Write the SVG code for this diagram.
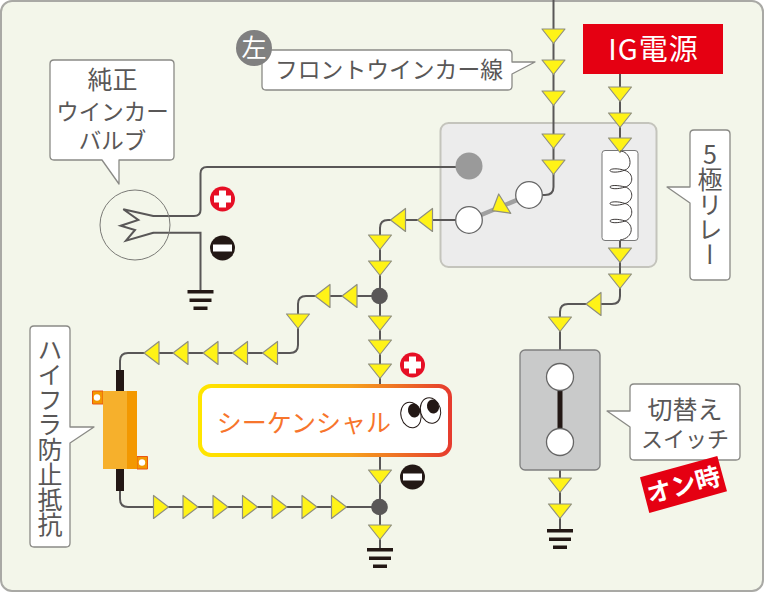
<svg xmlns="http://www.w3.org/2000/svg" width="764" height="592" viewBox="0 0 764 592">
<style>
text{font-family:"Noto Sans CJK JP","Noto Sans",sans-serif;fill:#595757;text-anchor:middle}
.w{fill:none;stroke:#595757;stroke-width:2}
.c{fill:#fff;stroke:#8a8a86;stroke-width:1.3;stroke-linejoin:round}
.v{writing-mode:vertical-rl;text-orientation:upright}
.g{fill:#231815}
.o{fill:#fff;stroke:#666;stroke-width:1.3}
.tw{fill:#fff}
</style>
<defs>
<path id="d" d="M-11.500 0H11.500L0 14.500Z" fill="#fff317" stroke="#8f8f80" stroke-width="1.2" stroke-linejoin="round"/>
<path id="l" d="M15 -11.500V11.500L0 0Z" fill="#fff317" stroke="#8f8f80" stroke-width="1.2" stroke-linejoin="round"/>
<path id="r" d="M0 -11.500V11.500L15 0Z" fill="#fff317" stroke="#8f8f80" stroke-width="1.2" stroke-linejoin="round"/>
<g id="gnd"><rect x="-13" y="-1.500" width="26" height="3.500" class="g"/><rect x="-11" y="7" width="22" height="3.500" class="g"/><rect x="-7" y="15" width="14" height="3.500" class="g"/></g>
<g id="plus"><circle r="12.500" fill="#e60f25"/><path d="M-3.500 -8.500H3.500V-3.500H8.500V3.500H3.500V8.500H-3.500V3.500H-8.500V-3.500H-3.500Z" fill="#fff"/></g>
<g id="minus"><circle r="12.500" fill="#231815"/><rect x="-9.500" y="-3.500" width="19" height="7" fill="#fff"/></g>
<linearGradient id="seq" x1="0" x2="1" y1="0" y2="0"><stop offset="0" stop-color="#ffe600"/><stop offset=".3" stop-color="#fcc800"/><stop offset=".6" stop-color="#f6a21c"/><stop offset="1" stop-color="#e63c2e"/></linearGradient>
</defs>

<rect id="background" x="1" y="1" width="762" height="590" rx="11" fill="#f3f6ea" stroke="#a9a9a5" stroke-width="2"/>

<g id="relay">
<rect x="440.500" y="123" width="216" height="144" rx="8" fill="#ececec" stroke="#c4c4bc" stroke-width="2"/>
</g>

<g id="connectors">
<path class="w" d="M553.500 0V187Q553.500 195 545 195H540"/>
<path class="w" d="M620 74V150M620 240V296Q620 304 612 304H568Q560 304 560 312V350M560 470V530"/>
<path class="w" d="M456 220H388Q380 220 380 228V384M380 296H306Q298 296 298 304V345Q298 353 290 353H128Q120 353 120 361V372"/>
<path class="w" d="M380 457V549M380 507H128Q120 507 120 499V490"/>
<path class="w" d="M153 216H194Q200.500 216 200.500 210V173.500Q200.500 167 207 167H458M153 232.700H200.500V291"/>
<path d="M469 220L529 195" stroke="#a0a0a0" stroke-width="4.500" fill="none"/>
</g>

<g id="arrows">
<use href="#d" x="553.500" y="29"/><use href="#d" x="553.500" y="60"/><use href="#d" x="553.500" y="91"/><use href="#d" x="553.500" y="134"/><use href="#d" x="553.500" y="160"/>
<use href="#d" x="620" y="87"/><use href="#d" x="620" y="113"/>
<use href="#d" x="620" y="248"/><use href="#d" x="620" y="274"/>
<use href="#l" x="586" y="304"/><use href="#d" x="560" y="317"/>
<use href="#d" x="560" y="478"/><use href="#d" x="560" y="504"/>
<use href="#l" x="417.500" y="220"/><use href="#l" x="390.500" y="220"/>
<use href="#d" x="380" y="235"/><use href="#d" x="380" y="261"/>
<use href="#d" x="380" y="316"/><use href="#d" x="380" y="340"/><use href="#d" x="380" y="364"/>
<use href="#d" x="380" y="470"/><use href="#d" x="380" y="525"/>
<use href="#l" x="342" y="296"/><use href="#l" x="315" y="296"/>
<use href="#d" x="298" y="314"/>
<use href="#l" x="262.500" y="353"/><use href="#l" x="232.500" y="353"/><use href="#l" x="203" y="353"/><use href="#l" x="173" y="353"/><use href="#l" x="144" y="353"/>
<use href="#r" x="153.500" y="507"/><use href="#r" x="183" y="507"/><use href="#r" x="213" y="507"/><use href="#r" x="242.500" y="507"/><use href="#r" x="272" y="507"/><use href="#r" x="302" y="507"/><use href="#r" x="331.500" y="507"/>
<path d="M498.700 194L492.300 210.700L510.700 213.300Z" fill="#fff317" stroke="#8f8f80" stroke-width="1.200" stroke-linejoin="round"/>
</g>

<g id="relay-contacts">
<circle cx="469" cy="166" r="13.500" fill="#9a9a9a"/>
<circle cx="469" cy="220" r="13.300" class="o"/>
<circle cx="529" cy="195" r="13.300" class="o"/>
</g>

<g id="coil">
<rect x="602" y="150.500" width="36" height="90" rx="3" fill="#fff" stroke="#777" stroke-width="1"/>
<use href="#d" x="620" y="138"/>
<path d="M620 151C630 151 634 167 625 170C618 173 610 172.500 610 170.500C610 168.500 618 168 625 170.500C634 173 634 185 625 187C618 189.500 610 189 610 187C610 185 618 185 625 187C634 189.500 634 201 625 203.500C618 206 610 205.500 610 203.500C610 201.500 618 201 625 203.500C634 206 634 218 625 221C618 223.500 610 223 610 221C610 219 618 218.500 625 221C634 224 634 238 620 240" fill="none" stroke="#3e3a39" stroke-width="1"/>
</g>

<g id="ig-power">
<rect x="583" y="24" width="140" height="50" fill="#e50012"/>
<text x="653.500" y="60" font-size="29" letter-spacing="1" class="tw">IG電源</text>
</g>

<g id="left-wire-label">
<path class="c" d="M266 50H508Q512 50 512 54V62L535 62L512 74V86Q512 90 508 90H266Q262 90 262 86V54Q262 50 266 50Z"/>
<text x="389" y="78" font-size="22.800">フロントウインカー線</text>
<circle cx="254" cy="48" r="18" fill="#808080"/>
<text x="254" y="57" font-size="25" class="tw">左</text>
</g>

<g id="bulb-label">
<path class="c" d="M54 60H170Q174 60 174 64V156Q174 160 170 160H119V184L102 160H54Q50 160 50 156V64Q50 60 54 60Z"/>
<text x="112.500" y="89" font-size="25">純正</text>
<text x="112.500" y="120" font-size="22.500">ウインカー</text>
<text x="112.500" y="149" font-size="22.500">バルブ</text>
</g>

<g id="bulb">
<circle cx="135" cy="225" r="35" fill="none" stroke="#7a7a76" stroke-width="1"/>
<path d="M153.300 216L123.300 209.300L138.300 220L120.700 225.700L135 230L126 240.700L153.300 232.700" fill="none" stroke="#595757" stroke-width="2"/>
</g>
<g id="bulb-ground"><use href="#gnd" x="200.500" y="291.500"/></g>
<g id="bulb-plus"><use href="#plus" x="222.500" y="199"/></g>
<g id="bulb-minus"><use href="#minus" x="222.500" y="248"/></g>

<g id="relay-label">
<path class="c" d="M694 130H726Q730 130 730 134V276Q730 280 726 280H694Q690 280 690 276V203L667 187L690 187V134Q690 130 694 130Z"/>
<text x="710" y="204" font-size="25" class="v">5極リレー</text>
</g>

<g id="resistor-label">
<path class="c" d="M34 326H66Q70 326 70 330V427L94 427L70 443V543Q70 547 66 547H34Q30 547 30 543V330Q30 326 34 326Z"/>
<text x="50" y="437" font-size="25" class="v">ハイフラ防止抵抗</text>
</g>

<g id="resistor">
<rect x="116" y="370" width="8" height="21.500" class="g"/>
<rect x="116" y="469" width="8" height="22" class="g"/>
<path d="M92.500 391H103V404H92.500Z" fill="#f39800" stroke="#ea5514" stroke-width="1"/>
<circle cx="97" cy="397.500" r="3.200" fill="#fff"/>
<path d="M137 456.500H147.500V469H137Z" fill="#f39800" stroke="#ea5514" stroke-width="1"/>
<circle cx="142" cy="462.500" r="3.200" fill="#fff"/>
<rect x="103" y="391" width="24" height="78" fill="#f6b02c"/>
<rect x="127" y="391" width="10" height="78" fill="#f39800"/>
</g>

<g id="sequential">
<rect x="200" y="386" width="250" height="69" rx="11" fill="#fff" stroke="url(#seq)" stroke-width="4"/>
<text x="304" y="432" font-size="25" style="fill:#f7752c">シーケンシャル</text>
<ellipse cx="411" cy="415" rx="10" ry="13" transform="rotate(-15 411 415)" fill="#fff" stroke="#231815" stroke-width="1"/>
<ellipse cx="430.500" cy="410.500" rx="10" ry="13" transform="rotate(-15 430.500 410.500)" fill="#fff" stroke="#231815" stroke-width="1"/>
<ellipse cx="414" cy="410.500" rx="6" ry="7" transform="rotate(-15 414 410.500)" fill="#231815"/>
<ellipse cx="433" cy="406.500" rx="6" ry="7" transform="rotate(-15 433 406.500)" fill="#231815"/>
</g>
<g id="seq-plus"><use href="#plus" x="412.500" y="365"/></g>
<g id="seq-minus"><use href="#minus" x="412.500" y="477"/></g>
<g id="junction-top"><circle cx="379.500" cy="296" r="8.300" fill="#595757"/></g>
<g id="junction-bottom"><circle cx="379.500" cy="507" r="8.300" fill="#595757"/></g>
<g id="seq-ground"><use href="#gnd" x="380" y="549.500"/></g>

<g id="switch">
<rect x="520" y="350" width="80" height="120" rx="5" fill="#c9caca" stroke="#7f7f7f" stroke-width="1.300"/>
<rect x="557.500" y="385" width="5" height="50" class="g"/>
<circle cx="560" cy="377" r="13.500" class="o"/>
<circle cx="560" cy="442" r="13.500" class="o"/>
</g>
<g id="switch-ground"><use href="#gnd" x="560" y="530.500"/></g>

<g id="switch-label">
<path class="c" d="M634 384H736Q740 384 740 388V456Q740 460 736 460H634Q630 460 630 456V427L607 411L630 411V388Q630 384 634 384Z"/>
<text x="685" y="419" font-size="25">切替え</text>
<text x="685" y="447" font-size="22">スイッチ</text>
</g>

<g id="on-badge">
<path d="M640 477.300L717.300 456L727 491.300L649.300 513Z" fill="#e50012"/>
<text x="683.500" y="494" font-size="25" font-weight="700" class="tw" transform="rotate(-15 683.500 485)">オン時</text>
</g>
</svg>
